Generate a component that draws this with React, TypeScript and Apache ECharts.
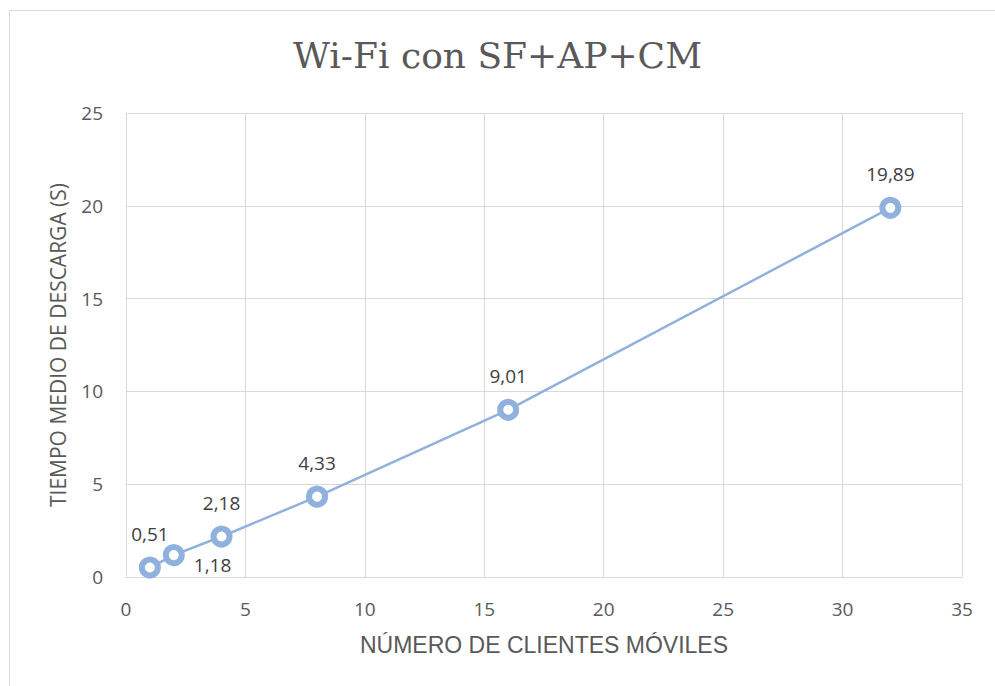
import React, { useEffect, useRef } from "react";
import * as echarts from "echarts";

const clientes = [1, 2, 4, 8, 16, 32];
const tiempos = [0.51, 1.18, 2.18, 4.33, 9.01, 19.89];
const titleText = "Wi-Fi con SF+AP+CM";
const xName = "NÚMERO DE CLIENTES MÓVILES";
const yName = "TIEMPO MEDIO DE DESCARGA (S)";

export default function App() {
  const ref = useRef<HTMLDivElement>(null);
  useEffect(() => {
    document.body.style.margin = "0";
    const chart = echarts.init(ref.current!, null, { renderer: "svg" });
    const fmt = (v: number) => v.toFixed(2).replace(".", ",");
    const data = clientes.map((x, i) => {
      const item: any = { value: [x, tiempos[i]] };
      if (i === 1) {
        item.label = { position: "right", distance: 9, offset: [0, 10] };
      }
      return item;
    });
    chart.setOption({
      animation: false,
      backgroundColor: "#ffffff",
      title: {
        text: titleText,
        left: "center",
        top: 32,
        textStyle: {
          fontFamily: "DejaVu Serif",
          fontSize: 36,
          fontWeight: "normal",
          color: "#595959",
        },
      },
      graphic: [
        {
          type: "rect",
          shape: { x: 9.5, y: 10.5, width: 1200, height: 1000 },
          style: { fill: "none", stroke: "#d9d9d9", lineWidth: 1 },
          silent: true,
        },
      ],
      grid: { left: 126, right: 33, top: 113, bottom: 109 },
      xAxis: {
        type: "value",
        min: 0,
        max: 35,
        interval: 5,
        name: xName,
        nameLocation: "middle",
        nameGap: 56,
        nameTextStyle: { fontFamily: "Liberation Sans", fontSize: 23, color: "#595959" },
        axisLine: { show: true, lineStyle: { color: "#d9d9d9" } },
        axisTick: { show: false },
        axisLabel: { fontFamily: "Open Sans", fontSize: 19, color: "#595959", margin: 22 },
        splitLine: { show: true, lineStyle: { color: "#d9d9d9", width: 1 } },
      },
      yAxis: {
        type: "value",
        min: 0,
        max: 25,
        interval: 5,
        name: yName,
        nameLocation: "middle",
        nameGap: 58,
        nameTextStyle: { fontFamily: "Open Sans", fontSize: 21, color: "#595959" },
        axisLine: { show: true, lineStyle: { color: "#d9d9d9" } },
        axisTick: { show: false },
        axisLabel: { fontFamily: "Open Sans", fontSize: 19, color: "#595959", margin: 23 },
        splitLine: { show: true, lineStyle: { color: "#d9d9d9", width: 1 } },
      },
      series: [
        {
          type: "line",
          data,
          symbol: "circle",
          symbolSize: 16,
          lineStyle: { color: "#90b1dd", width: 2.5 },
          itemStyle: { color: "#ffffff", borderColor: "#90b1dd", borderWidth: 6 },
          label: {
            show: true,
            position: "top",
            distance: 13,
            formatter: (p: any) => fmt(p.value[1]),
            fontFamily: "Open Sans",
            fontSize: 19,
            color: "#404040",
          },
        },
      ],
    });
    return () => chart.dispose();
  }, []);
  return <div ref={ref} style={{ width: 995, height: 686 }} />;
}
